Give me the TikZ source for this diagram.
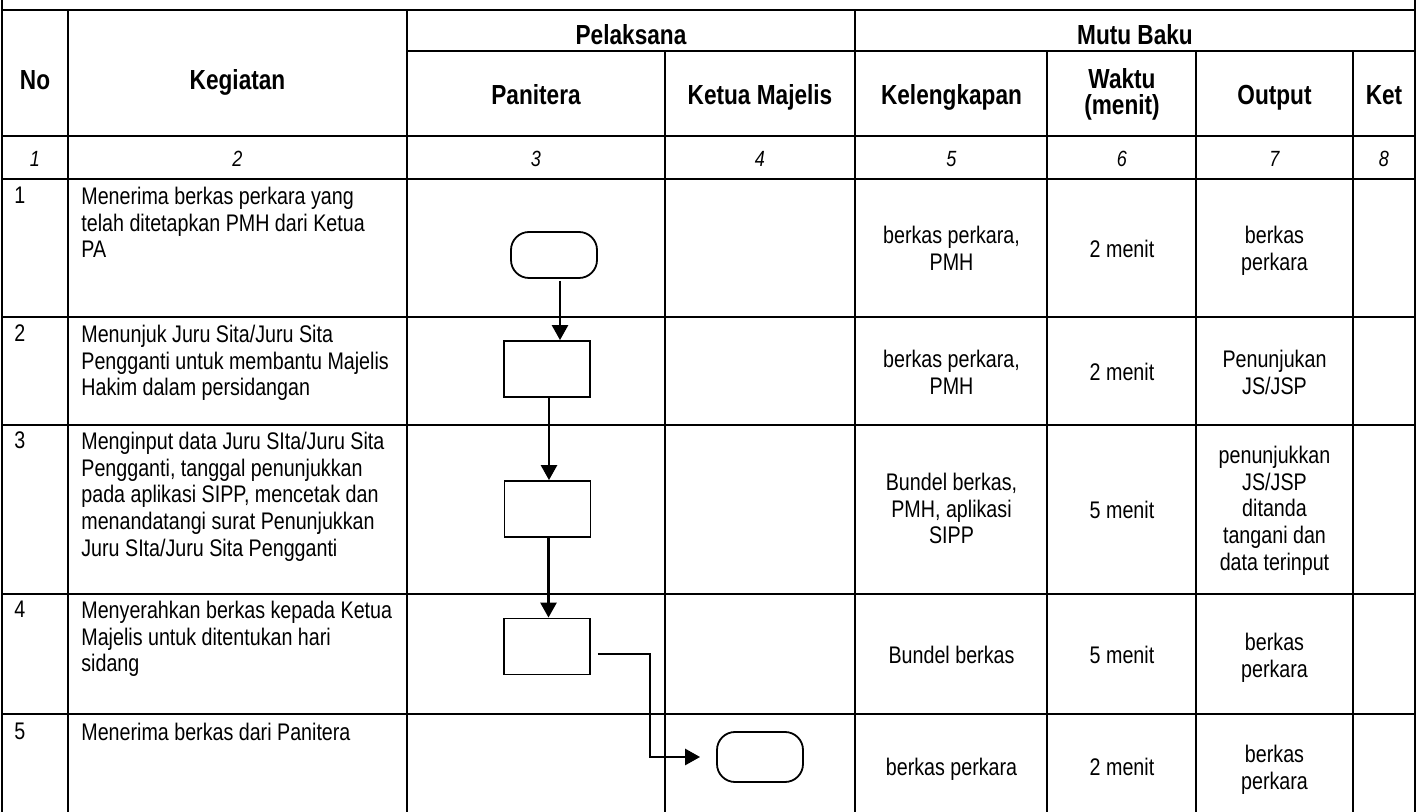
\documentclass[tikz,border=0pt]{standalone}
\usepackage{fontspec}
\setmainfont{Liberation Sans}[FakeStretch=0.82]
\usetikzlibrary{arrows.meta}
\tikzset{
  tabline/.style={line width=1.2pt, line cap=rect},
  hdr/.style={font=\fontsize{13.8}{13}\selectfont\bfseries, inner sep=0pt},
  numtxt/.style={font=\fontsize{11}{13}\selectfont\itshape, inner sep=0pt, anchor=base},
  body/.style={font=\fontsize{12}{13.4}\selectfont, inner sep=0pt},
  cell/.style={body, align=center, anchor=north},
  kegtxt/.style={body, align=left, anchor=north west},
  notxt/.style={body, anchor=north west},
  term/.style={draw, line width=0.9pt, rounded corners=9pt, minimum width=43pt, minimum height=23pt, inner sep=0pt},
  procbox/.style={draw, line width=0.9pt, minimum width=43pt, minimum height=28pt, inner sep=0pt},
  arr/.style={line width=1.3pt, -{Triangle[width=8pt,length=7.5pt]}},
}
\begin{document}
\begin{tikzpicture}[x=0.5pt,y=-0.5pt]
\useasboundingbox (0,0) rectangle (1421,812);
% ---- table lines ----
\draw[tabline] (2,0) -- (2,812);
\draw[tabline] (1415,0) -- (1415,812);
\draw[tabline] (2,10) -- (1415,10);
\draw[tabline] (407,51) -- (1415,51);
\foreach \yy in {136,179,317,425,594,714}{
  \draw[tabline] (2,\yy) -- (1415,\yy);
}
\foreach \xx in {68,407,855}{
  \draw[tabline] (\xx,10) -- (\xx,812);
}
\foreach \xx in {665,1047,1196,1353}{
  \draw[tabline] (\xx,51) -- (\xx,812);
}
% ---- header ----
\node[hdr, anchor=base] (hno) at (35,90) {No};
\node[hdr, anchor=base] (hkeg) at (237.5,90) {Kegiatan};
\node[hdr, anchor=base] (hpel) at (631,45) {Pelaksana};
\node[hdr, anchor=base] (hmutu) at (1135,45) {Mutu Baku};
\node[hdr, anchor=base] (hpan) at (536,105) {Panitera};
\node[hdr, anchor=base] (hkm) at (760,105) {Ketua Majelis};
\node[hdr, anchor=base] (hkel) at (951.5,105) {Kelengkapan};
\node[hdr, align=center] (hwak) at (1122,94) {Waktu\\(menit)};
\node[hdr, anchor=base] (hout) at (1274.5,105) {Output};
\node[hdr, anchor=base] (hket) at (1384,105) {Ket};
% ---- column numbers ----
\node[numtxt] (c1) at (35,167) {1};
\node[numtxt] (c2) at (237.5,167) {2};
\node[numtxt] (c3) at (536,167) {3};
\node[numtxt] (c4) at (760,167) {4};
\node[numtxt] (c5) at (951.5,167) {5};
\node[numtxt] (c6) at (1122,167) {6};
\node[numtxt] (c7) at (1274.5,167) {7};
\node[numtxt] (c8) at (1384,167) {8};
% ---- row numbers ----
\node[notxt] (r1) at (14,186.5) {1};
\node[notxt] (r2) at (14,324.5) {2};
\node[notxt] (r3) at (14,431.5) {3};
\node[notxt] (r4) at (14,600.5) {4};
\node[notxt] (r5) at (14,722.5) {5};
% ---- kegiatan ----
\node[kegtxt] (k1) at (81,186.5) {Menerima berkas perkara yang\\telah ditetapkan PMH dari Ketua\\PA};
\node[kegtxt] (k2) at (81,324.5) {Menunjuk Juru Sita/Juru Sita\\Pengganti untuk membantu Majelis\\Hakim dalam persidangan};
\node[kegtxt] (k3) at (81,431.5) {Menginput data Juru SIta/Juru Sita\\Pengganti, tanggal penunjukkan\\pada aplikasi SIPP, mencetak dan\\menandatangi surat Penunjukkan\\Juru SIta/Juru Sita Pengganti};
\node[kegtxt] (k4) at (81,600.5) {Menyerahkan berkas kepada Ketua\\Majelis untuk ditentukan hari\\sidang};
\node[kegtxt] (k5) at (81,722.5) {Menerima berkas dari Panitera};
% ---- kelengkapan ----
\node[cell] (l1) at (951.5,225.5) {berkas perkara,\\PMH};
\node[cell] (l2) at (951.5,349.5) {berkas perkara,\\PMH};
\node[cell] (l3) at (951.5,472.5) {Bundel berkas,\\PMH, aplikasi\\SIPP};
\node[cell] (l4) at (951.5,645.5) {Bundel berkas};
\node[cell] (l5) at (951.5,757.5) {berkas perkara};
% ---- waktu ----
\node[cell] (w1) at (1122,239.5) {2 menit};
\node[cell] (w2) at (1122,362.5) {2 menit};
\node[cell] (w3) at (1122,500.5) {5 menit};
\node[cell] (w4) at (1122,645.5) {5 menit};
\node[cell] (w5) at (1122,757.5) {2 menit};
% ---- output ----
\node[cell] (o1) at (1274.5,225.5) {berkas\\perkara};
\node[cell] (o2) at (1274.5,349.5) {Penunjukan\\JS/JSP};
\node[cell] (o3) at (1274.5,445.5) {penunjukkan\\JS/JSP\\ditanda\\tangani dan\\data terinput};
\node[cell] (o4) at (1274.5,632.5) {berkas\\perkara};
\node[cell] (o5) at (1274.5,744.5) {berkas\\perkara};
% ---- flowchart ----
\node[term] (t1) at (554,255) {};
\node[procbox] (b2) at (547,369) {};
\node[procbox] (b3) at (547.5,509) {};
\node[procbox] (b4) at (547,646.5) {};
\node[term, minimum height=25pt] (t5) at (760,757) {};
\coordinate (a1s) at ([xshift=3pt,yshift=-1pt]t1.south);
\draw[arr] (a1s) -- (a1s |- b2.north);
\coordinate (a2s) at ([xshift=1pt]b2.south);
\draw[arr] (a2s) -- (a2s |- b3.north);
\coordinate (a3s) at ([xshift=0.5pt]b3.south);
\draw[arr] (a3s) -- (a3s |- b4.north);
\coordinate (a4s) at ([xshift=3.5pt,yshift=-3.75pt]b4.east);
\coordinate (a4e) at ([xshift=-8pt]t5.west);
\draw[arr] (a4s) -- ++(26pt,0) |- (a4e);
\end{tikzpicture}
\end{document}
